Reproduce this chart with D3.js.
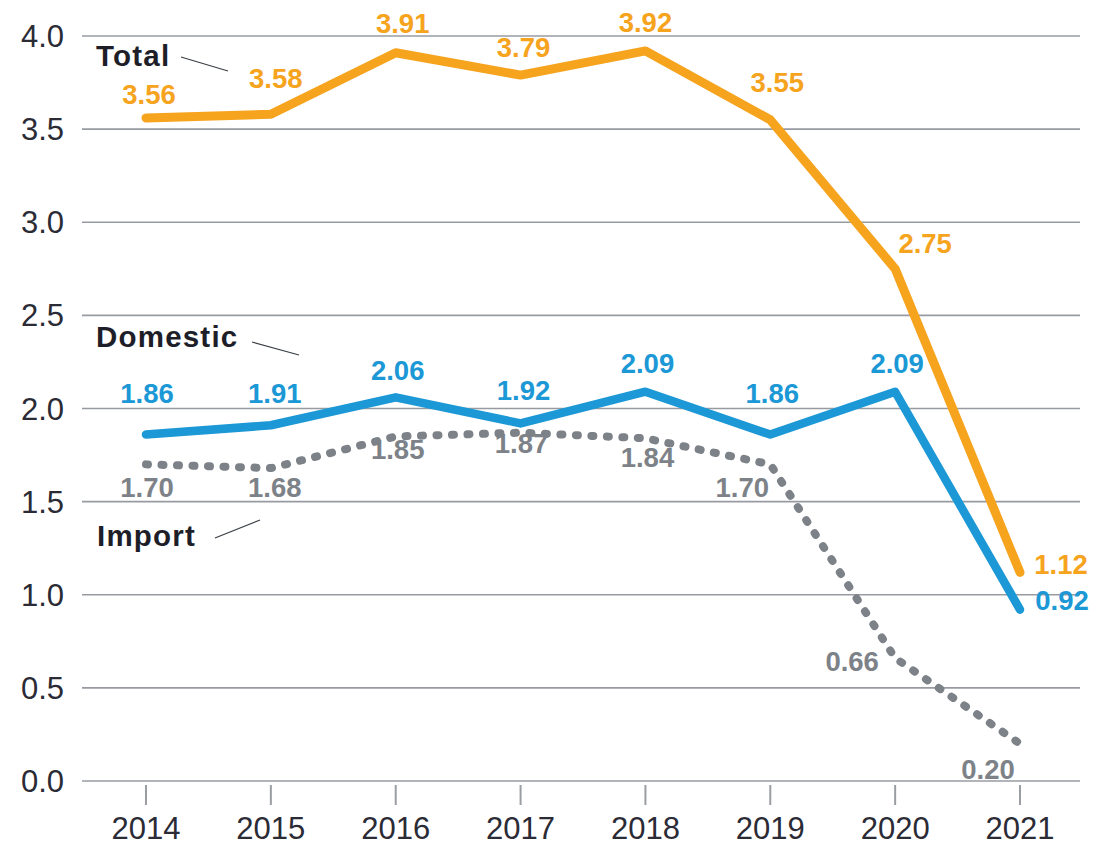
<!DOCTYPE html>
<html>
<head>
<meta charset="utf-8">
<script src="https://cdn.jsdelivr.net/npm/d3@7"></script>
<style>
  body { margin: 0; background: #fff; }
  svg { display: block; font-family: "Liberation Sans", Arial, sans-serif; }
</style>
</head>
<body>
<svg id="chart" width="1094" height="847"></svg>
<script>
const years = [2014, 2015, 2016, 2017, 2018, 2019, 2020, 2021];
const total = [3.56, 3.58, 3.91, 3.79, 3.92, 3.55, 2.75, 1.12];
const domestic = [1.86, 1.91, 2.06, 1.92, 2.09, 1.86, 2.09, 0.92];
const importVals = [1.70, 1.68, 1.85, 1.87, 1.84, 1.70, 0.66, 0.20];
const yTicks = [0, 0.5, 1, 1.5, 2, 2.5, 3, 3.5, 4];

// label placement (pixel offsets from each point), layout only
const totalLabelPos = [[3, -14], [5, -26], [7, -20], [3, -18], [0, -19], [7, -28], [30, -16], [41, 2]];
const domesticLabelPos = [[1, -32], [4, -22], [2, -17], [3, -23], [2, -19], [2, -32], [2, -19], [42, 0]];
const importLabelPos = [[1, 33], [4, 29], [2, 23], [1, 20], [2, 29], [-28, 33], [-43, 13], [-32, 35]];

const series = [
  { name: "Total", values: total, color: "#f6a31e", dash: null, width: 9, labels: totalLabelPos },
  { name: "Domestic", values: domestic, color: "#1b98d5", dash: null, width: 8.5, labels: domesticLabelPos },
  { name: "Import", values: importVals, color: "#7d8288", dash: "2,13.5", width: 8, labels: importLabelPos }
];

const svg = d3.select("#chart");
const x = d3.scalePoint().domain(years).range([146, 1020]);
const y = d3.scaleLinear().domain([0, 4]).range([781, 36]);
const gridLeft = 82, gridRight = 1080;

// grid lines
svg.append("g").selectAll("line")
  .data(yTicks)
  .join("line")
  .attr("x1", gridLeft).attr("x2", gridRight)
  .attr("y1", d => y(d)).attr("y2", d => y(d))
  .attr("stroke", "#979ba1")
  .attr("stroke-width", 1.7);

// y labels
svg.append("g").selectAll("text")
  .data(yTicks)
  .join("text")
  .attr("x", 64)
  .attr("y", d => y(d) + 11)
  .attr("text-anchor", "end")
  .style("font-size", "31px")
  .attr("fill", "#2b2b36")
  .text(d3.format(".1f"));

// x ticks and labels
const xAxisG = svg.append("g");
xAxisG.selectAll("line")
  .data(years)
  .join("line")
  .attr("x1", d => x(d)).attr("x2", d => x(d))
  .attr("y1", 785).attr("y2", 805)
  .attr("stroke", "#9a9ea3")
  .attr("stroke-width", 2);
xAxisG.selectAll("text")
  .data(years)
  .join("text")
  .attr("x", d => x(d))
  .attr("y", 839)
  .attr("text-anchor", "middle")
  .style("font-size", "31px")
  .attr("fill", "#2b2b36")
  .text(d => d);

const line = d3.line()
  .x((d, i) => x(years[i]))
  .y(d => y(d));

// draw import first so solid lines sit on top
[series[2], series[0], series[1]].forEach(s => {
  svg.append("path")
    .datum(s.values)
    .attr("d", line)
    .attr("fill", "none")
    .attr("stroke", s.color)
    .attr("stroke-width", s.width)
    .attr("stroke-linecap", "round")
    .attr("stroke-linejoin", "round")
    .attr("stroke-dasharray", s.dash);
});

series.forEach(s => {
  svg.append("g").selectAll("text")
    .data(s.values)
    .join("text")
    .attr("x", (d, i) => x(years[i]) + s.labels[i][0])
    .attr("y", (d, i) => y(d) + s.labels[i][1])
    .attr("text-anchor", "middle")
    .style("font-size", "27.5px")
    .style("font-weight", "bold")
    .attr("fill", s.color)
    .text(d => d.toFixed(2));
});

// series names with leader lines
const names = [
  { text: "Total", tx: 96, ty: 66, line: [181, 57, 228, 71] },
  { text: "Domestic", tx: 96, ty: 347, line: [252, 342, 299, 355] },
  { text: "Import", tx: 97, ty: 546, line: [215, 538, 260, 520] }
];
names.forEach(n => {
  svg.append("text")
    .attr("x", n.tx).attr("y", n.ty)
    .style("font-size", "29.5px")
    .style("font-weight", "bold")
    .style("letter-spacing", "1.2px")
    .attr("fill", "#1e1e28")
    .text(n.text);
  svg.append("line")
    .attr("x1", n.line[0]).attr("y1", n.line[1])
    .attr("x2", n.line[2]).attr("y2", n.line[3])
    .attr("stroke", "#3a3f46")
    .attr("stroke-width", 1.2);
});
</script>
</body>
</html>
